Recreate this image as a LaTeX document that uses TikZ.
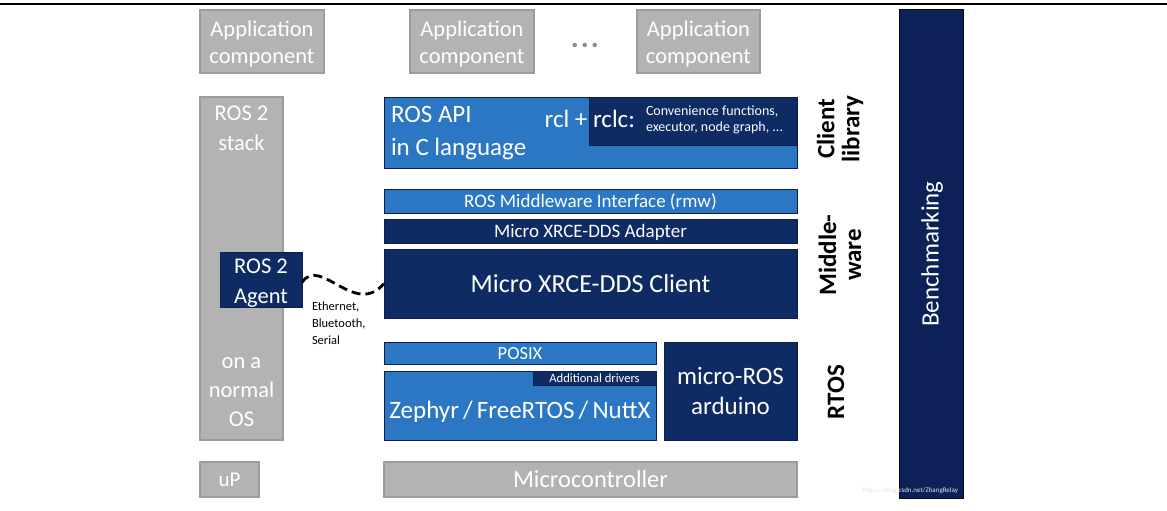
\documentclass[tikz,border=0pt]{standalone}
\usepackage{fontspec}
\setmainfont{Carlito}
\definecolor{gfill}{HTML}{B3B3B3}
\definecolor{gline}{HTML}{9C9C9C}
\definecolor{mblue}{HTML}{2B77C3}
\definecolor{navy}{HTML}{0E2B63}
\definecolor{nline}{HTML}{0A1E48}
\definecolor{bnavy}{HTML}{0C2157}
\newcommand{\fs}[2]{\fontsize{#1}{#2}\selectfont}
\tikzset{
  base/.style={inner sep=0pt, outer sep=0pt, align=center, text=white},
  graybox/.style={base, fill=gfill, draw=gline, line width=1.2pt},
  bluebox/.style={base, fill=mblue, draw=nline, line width=1pt},
  navybox/.style={base, fill=navy, draw=nline, line width=1pt},
  sidelabel/.style={rotate=90, align=center, font=\bfseries\fs{25}{25}, text=black},
  wave/.style={line width=2.8pt, dash pattern=on 9pt off 5pt, black}
}
\begin{document}
\begin{tikzpicture}[x=1pt,y=-1pt]
\useasboundingbox (0,0) rectangle (1167,511);
\draw[line width=2.5pt] (0,4) -- (1167,4);
% application components
\node[graybox, minimum width=124, minimum height=63] (app1) at (262,41.5) {};
\node[base, font=\fs{22.5}{27}] (app1t) at (262,44.5) {Application\\component};
\node[graybox, minimum width=124, minimum height=63] (app2) at (472,41.5) {};
\node[base, font=\fs{22.5}{27}] (app2t) at (472,44.5) {Application\\component};
\node[graybox, minimum width=123, minimum height=63] (app3) at (698.5,41.5) {};
\node[base, font=\fs{22.5}{27}] (app3t) at (698.5,44.5) {Application\\component};
\node[base, text=black!45, font=\bfseries\fs{30}{30}] (dots) at (585,45) {.\hspace{2pt}.\hspace{2pt}.};
% ROS 2 stack
\node[graybox, minimum width=83, minimum height=343] (stack) at (241.5,268.5) {};
\node[base, font=\fs{22.5}{30}, anchor=north] (stackt) at (241.5,106) {ROS 2\\stack};
\node[base, font=\fs{22.5}{29}, anchor=south] (ost) at (241.5,427) {on a\\normal\\OS};
\node[navybox, minimum width=82, minimum height=55] (agent) at (261,279.5) {};
\node[base, font=\fs{22.5}{30}] (agentt) at (261,283) {ROS 2\\Agent};
% client library
\node[bluebox, minimum width=413, minimum height=71] (rosapi) at (590.5,132.5) {};
\node[base, anchor=north west, align=left, font=\fs{25}{33}] (rosapit) at (391,106) {ROS API\\in C language};
\node[navybox, minimum width=208, minimum height=48] (rclc) at (693,121) {};
\node[base, anchor=east, font=\fs{25}{25}] (rclt) at (635,119) {rcl + rclc:};
\node[base, anchor=west, align=left, font=\fs{14}{15.5}] (conv) at (646,120) {Convenience functions,\\executor, node graph, ...};
\node[sidelabel] (cl) at (840,129) {Client\\library};
% middleware
\node[bluebox, minimum width=413, minimum height=24] (rmw) at (590.5,201) {};
\node[base, font=\fs{19}{19}] (rmwt) at (590.5,202) {ROS Middleware Interface (rmw)};
\node[navybox, minimum width=413, minimum height=24] (adapter) at (590.5,231) {};
\node[base, font=\fs{19}{19}] (adaptert) at (590.5,232) {Micro XRCE-DDS Adapter};
\node[navybox, minimum width=413, minimum height=69, font=\fs{26}{28}] (client) at (590.5,283.5) {Micro XRCE-DDS Client};
\node[sidelabel] (mw) at (840,255) {Middle-\\ware};
% connection
\draw[wave] (agent.east) ++(0,3) .. controls (320,255) and (355,318) .. (client.west);
\node[base, text=black, anchor=north west, align=left, font=\fs{12.5}{17}] (eth) at (312,302) {Ethernet,\\Bluetooth,\\Serial};
% RTOS
\node[bluebox, minimum width=272, minimum height=22] (posix) at (520,353) {};
\node[base, font=\fs{18.5}{19}] (posixt) at (520,353.5) {POSIX};
\node[bluebox, minimum width=272, minimum height=69] (zephyr) at (520,405.5) {};
\node[base, font=\fs{25}{28}] (zepht) at (520,412) {Zephyr\,/\,FreeRTOS\,/\,NuttX};
\node[navybox, minimum width=123, minimum height=14] (drivers) at (594.5,378) {};
\node[base, font=\fs{12.6}{13}] (driverst) at (594.5,378.5) {Additional drivers};
\node[navybox, minimum width=133, minimum height=98, font=\fs{25}{30}] (arduino) at (730.5,391) {micro-ROS\\arduino};
\node[sidelabel] (rtos) at (836,392) {RTOS};
% hardware
\node[graybox, minimum width=59, minimum height=35, font=\fs{21}{22}] (up) at (229.5,479.5) {uP};
\node[graybox, minimum width=413, minimum height=35, font=\fs{24.5}{25}] (mcu) at (590.5,479.5) {Microcontroller};
% benchmarking
\node[base, fill=bnavy, draw=black!80!bnavy, line width=1pt, minimum width=64, minimum height=488] (bench) at (931,254) {};
\node[base, rotate=90, font=\fs{25}{26}] (bencht) at (932,254) {Benchmarking};
\node[base, text=white!80!gray, font=\fs{7}{8}, anchor=east] (wm) at (958,491) {https://blog.csdn.net/ZhangRelay};
\end{tikzpicture}
\end{document}
